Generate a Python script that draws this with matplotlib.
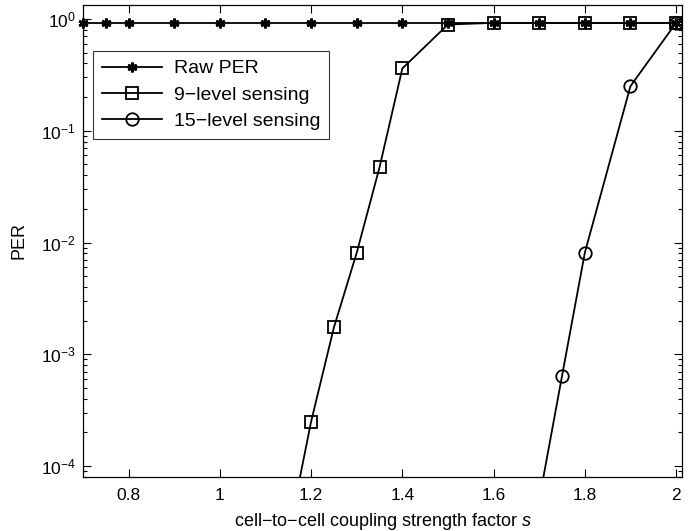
import matplotlib
matplotlib.use('Agg')
import matplotlib.pyplot as plt
from matplotlib.ticker import LogLocator, NullFormatter, FixedLocator

plt.rcParams['font.family'] = ['Liberation Sans', 'DejaVu Sans']
plt.rcParams['mathtext.fontset'] = 'custom'
plt.rcParams['mathtext.rm'] = 'Liberation Sans'
plt.rcParams['mathtext.it'] = 'Liberation Sans:italic'

# raw PER
raw_s = [0.7, 0.75, 0.8, 0.9, 1.0, 1.1, 1.2, 1.3, 1.4, 1.5, 1.6, 1.7, 1.8, 1.9, 2.0]
raw_per = [0.92] * len(raw_s)

# 9-level sensing
s9 = [1.15, 1.2, 1.25, 1.3, 1.35, 1.4, 1.5, 1.6, 1.7, 1.8, 1.9, 2.0]
per9 = [2.4e-5, 2.5e-4, 1.74e-3, 8.1e-3, 4.7e-2, 0.36, 0.89, 0.92, 0.92, 0.92, 0.92, 0.92]

# 15-level sensing
s15 = [1.7, 1.75, 1.8, 1.9, 2.0]
per15 = [5e-5, 6.4e-4, 8.1e-3, 0.25, 0.92]

xticks = [0.8, 1.0, 1.2, 1.4, 1.6, 1.8, 2.0]
xticklabels = ['0.8', '1', '1.2', '1.4', '1.6', '1.8', '2']

fig = plt.figure(figsize=(6.95, 5.31), dpi=100)
ax = fig.add_axes([0.1194, 0.1017, 0.8619, 0.8889])

ax.semilogy(raw_s, raw_per, 'k-', marker=(6, 2, 0), markersize=7, markeredgewidth=2.0,
            linewidth=1.3, label='Raw PER', clip_on=False)
ax.semilogy(s9, per9, 'k-', marker='s', markersize=9, markerfacecolor='none',
            markeredgewidth=1.3, linewidth=1.3, label='9-level sensing')
ax.semilogy(s15, per15, 'k-', marker='o', markersize=9, markerfacecolor='none',
            markeredgewidth=1.3, linewidth=1.3, label='15-level sensing')

ax.set_xlim(0.7, 2.013)
ax.set_ylim(8e-5, 1.33)
ax.xaxis.set_major_locator(FixedLocator(xticks))
ax.set_xticklabels(xticklabels)
ax.yaxis.set_major_locator(LogLocator(base=10, numticks=10))
ax.yaxis.set_minor_locator(LogLocator(base=10, subs=range(2, 10), numticks=20))
ax.yaxis.set_minor_formatter(NullFormatter())

ax.tick_params(which='both', direction='in', top=True, right=True, labelsize=12.5)
ax.tick_params(which='major', length=6, width=0.8, pad=5)
ax.tick_params(axis='x', which='major', pad=8)
ax.tick_params(which='minor', length=3, width=0.8)
for sp in ax.spines.values():
    sp.set_linewidth(0.9)

ax.set_xlabel('cell\u2212to\u2212cell coupling strength factor $s$', fontsize=13, labelpad=6)
ax.set_ylabel('PER', fontsize=13, labelpad=10)

leg = ax.legend(loc='upper left', bbox_to_anchor=(0.017, 0.9025), borderaxespad=0,
                fontsize=14, handlelength=3.1, frameon=True, fancybox=False,
                edgecolor='black', borderpad=0.45, labelspacing=0.45, handletextpad=0.6)
leg.get_frame().set_linewidth(0.8)
for t in leg.get_texts():
    t.set_text(t.get_text().replace('-', '\u2212'))

fig.savefig('out.png', dpi=100)
